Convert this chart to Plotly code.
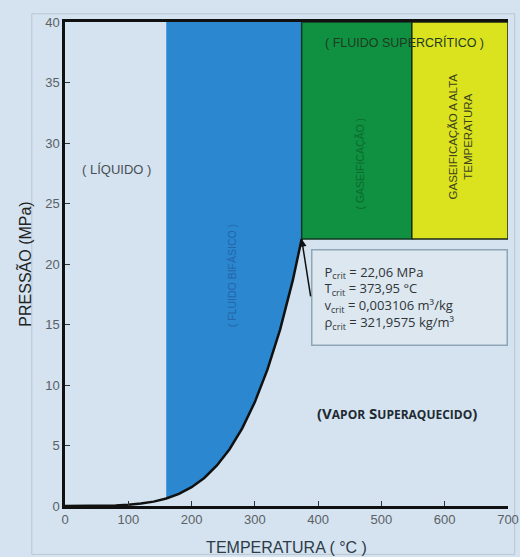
import plotly.graph_objects as go

# Saturation curve of water (T in °C, P in MPa)
sat_T = [0, 20, 40, 60, 80, 100, 120, 140, 160, 180, 200, 220, 240, 260, 280, 300, 320, 340, 360, 373.95]
sat_P = [0.000611, 0.00234, 0.00738, 0.0199, 0.0474, 0.1014, 0.1985, 0.3615, 0.6181, 1.0028,
         1.5549, 2.3196, 3.3469, 4.6923, 6.4166, 8.5879, 11.284, 14.601, 18.666, 22.064]

T_crit = 373.95
P_crit = 22.06
P_max = 40
T_blue_start = 160
T_green_end = 548
T_max = 700

x_ticks = [0, 100, 200, 300, 400, 500, 600, 700]
y_ticks = [0, 5, 10, 15, 20, 25, 30, 35, 40]

crit_lines = [
    "P<sub>crit</sub> = 22,06 MPa",
    "T<sub>crit</sub> = 373,95 °C",
    "v<sub>crit</sub> = 0,003106 m³/kg",
    "ρ<sub>crit</sub> = 321,9575 kg/m³",
]

BG = "#d4e3ef"

fig = go.Figure()

# blue region (left of curve, from T_blue_start to critical)
bx = [t for t in sat_T if t >= T_blue_start]
by = [p for t, p in zip(sat_T, sat_P) if t >= T_blue_start]
fig.add_trace(go.Scatter(
    x=bx + [T_crit, T_blue_start, T_blue_start],
    y=by + [P_max, P_max, by[0]],
    fill="toself", fillcolor="#2a87d0", line=dict(width=0), mode="lines",
    hoverinfo="skip", showlegend=False))

# green region
fig.add_trace(go.Scatter(
    x=[T_crit, T_green_end, T_green_end, T_crit, T_crit],
    y=[P_crit, P_crit, P_max, P_max, P_crit],
    fill="toself", fillcolor="#0f9141", line=dict(width=1.5, color="#103820"), mode="lines",
    hoverinfo="skip", showlegend=False))

# yellow region
fig.add_trace(go.Scatter(
    x=[T_green_end, T_max, T_max, T_green_end, T_green_end],
    y=[P_crit, P_crit, P_max, P_max, P_crit],
    fill="toself", fillcolor="#dae31e", line=dict(width=1.5, color="#1c2a18"), mode="lines",
    hoverinfo="skip", showlegend=False))

# saturation curve
fig.add_trace(go.Scatter(x=sat_T, y=sat_P, mode="lines",
                         line=dict(color="#111111", width=2.5), hoverinfo="skip", showlegend=False))

# texts
fig.add_annotation(x=82, y=27.85, text="( LÍQUIDO )", showarrow=False,
                   font=dict(family="Liberation Sans, Arial", size=13, color="#4a4f55"))
fig.add_annotation(x=264, y=19.0, text="( FLUIDO BIFÁSICO )", showarrow=False, textangle=-90,
                   font=dict(family="Liberation Sans, Arial", size=10.5, color="#2466a8"))
fig.add_annotation(x=466, y=28.3, text="( GASEIFICAÇÃO )", showarrow=False, textangle=-90,
                   font=dict(family="Liberation Sans, Arial", size=10.5, color="#0b6a2c"))
fig.add_annotation(x=536, y=38.3, text="( FLUIDO SUPERCRÍTICO )", showarrow=False,
                   font=dict(family="Liberation Sans, Arial", size=12.5, color="#1f3a22"))
fig.add_annotation(x=625, y=30.5, text="GASEIFICAÇÃO A ALTA<br>TEMPERATURA", showarrow=False,
                   textangle=-90,
                   font=dict(family="Liberation Sans, Arial", size=11.5, color="#3a4020"))
fig.add_annotation(x=524, y=7.7,
                   text="<b>(V<span style='font-size:12px'>APOR</span> S<span style='font-size:12px'>UPERAQUECIDO</span>)</b>",
                   showarrow=False,
                   font=dict(family="Open Sans, Liberation Sans", size=15, color="#1f2a33"))

# critical point box
fig.add_annotation(x=389, y=17.2, xanchor="left", yanchor="middle", align="left",
                   text="<br>".join(crit_lines), showarrow=False,
                   bgcolor="#dce7f0", bordercolor="#8ea6b6", borderwidth=1.5, borderpad=12,
                   width=170,
                   font=dict(family="Open Sans, Liberation Sans", size=13, color="#2f3438"))
fig.add_annotation(x=T_crit, y=P_crit, ax=388.5, ay=17.2, axref="x", ayref="y",
                   xref="x", yref="y", text="", showarrow=True, arrowhead=2,
                   arrowsize=1, arrowwidth=1.5, arrowcolor="#111111", standoff=0)

# faint photo frame
fig.add_shape(type="rect", xref="paper", yref="paper", x0=-0.075, x1=1.015, y0=-0.1, y1=1.017,
              line=dict(color="#b9c7d3", width=1), layer="below")

fig.update_layout(
    width=520, height=557,
    margin=dict(l=65, r=12, t=22, b=51),
    paper_bgcolor=BG, plot_bgcolor=BG,
    xaxis=dict(range=[0, T_max], tickvals=x_ticks, ticks="inside", ticklen=5, tickcolor="#333",
               showgrid=False, zeroline=False, showline=True, linecolor="#111", linewidth=2.5,
               mirror=True, automargin=False,
               tickfont=dict(family="Liberation Sans, Arial", size=13, color="#5a6066"),
               title=dict(text="TEMPERATURA ( °C )", standoff=16,
                          font=dict(family="Liberation Sans, Arial", size=16, color="#2d3a48"))),
    yaxis=dict(range=[0, P_max], tickvals=y_ticks, ticks="inside", ticklen=5, tickcolor="#333",
               showgrid=False, zeroline=False, showline=True, linecolor="#111", linewidth=2.5,
               automargin=False,
               tickfont=dict(family="Liberation Sans, Arial", size=13, color="#5a6066"),
               title=dict(text="PRESSÃO (MPa)", standoff=10,
                          font=dict(family="Liberation Sans, Arial", size=16, color="#222"))),
)

fig.write_html("out.html", config={"displayModeBar": False},
               post_script="document.body.style.margin='0';document.body.style.background='" + BG + "';")
